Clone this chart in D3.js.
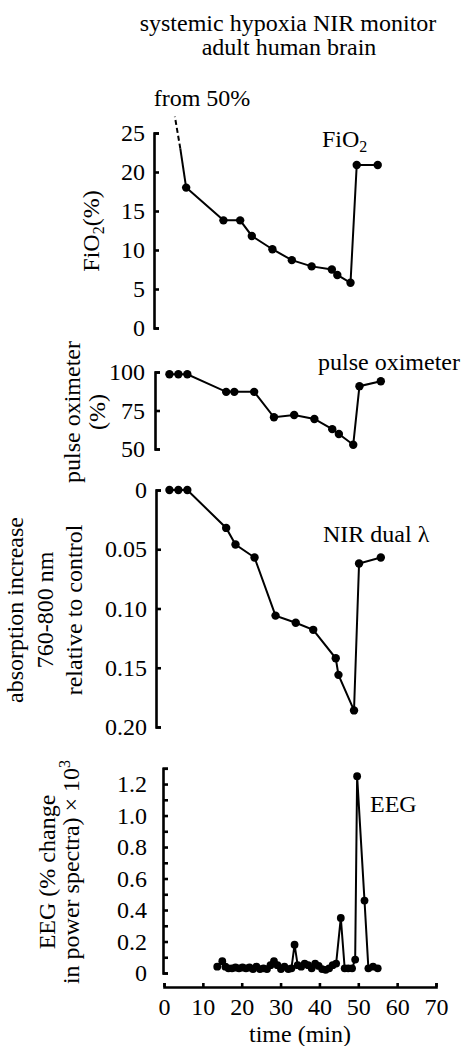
<!DOCTYPE html>
<html>
<head>
<meta charset="utf-8">
<script src="https://cdn.jsdelivr.net/npm/d3@7"></script>
<style>
  body { margin: 0; background: #fff; }
  svg text { font-family: "Liberation Serif", "Times New Roman", serif; font-size: 24px; fill: #000; }
</style>
</head>
<body>
<div id="chart"></div>
<script>
// time (min) ticks shared by every panel
const timeTicks = [0, 10, 20, 30, 40, 50, 60, 70];

// FiO2 (%)
const fio2Time = [5.7, 15.3, 19.6, 22.6, 27.9, 32.9, 38.0, 43.2, 44.6, 48.0, 49.6, 55.0];
const fio2Value = [18.0, 13.8, 13.8, 11.8, 10.1, 8.7, 7.9, 7.5, 6.8, 5.8, 20.9, 20.9];
const fio2Lead = [[5.7, 18.0], [4.2, 23.0], [2.8, 27.1]]; // "from 50%" lead-in
const fio2Ticks = [0, 5, 10, 15, 20, 25];

// pulse oximeter (%)
const pulseTime = [1.4, 3.7, 6.0, 16.0, 18.1, 23.2, 28.3, 33.5, 38.7, 43.3, 45.0, 48.7, 50.3, 55.8];
const pulseValue = [98.5, 98.5, 98.5, 87.1, 87.1, 87.1, 70.6, 72.1, 69.5, 62.9, 59.7, 52.8, 90.8, 94.0];
const pulseTicks = [50, 75, 100];

// NIR dual wavelength absorption increase
const nirTime = [1.4, 3.7, 6.0, 16.0, 18.4, 23.3, 28.7, 33.9, 38.4, 44.2, 44.9, 48.9, 50.2, 55.8];
const nirValue = [0, 0, 0, 0.032, 0.046, 0.057, 0.106, 0.112, 0.118, 0.142, 0.156, 0.186, 0.062, 0.057];
const nirTicks = [0, 0.05, 0.10, 0.15, 0.20];

// EEG (% change in power spectra) x 10^3
const eegTime = [13.7, 15.0, 15.8, 16.6, 17.5, 18.4, 19.3, 20.2, 21.1, 22.0, 22.9, 23.8, 24.7, 25.6,
  26.5, 27.4, 28.3, 29.2, 30.1, 31.0, 32.0, 32.8, 33.6, 34.4, 35.3, 36.2, 37.1, 38.0, 38.9, 39.8,
  40.7, 41.6, 42.5, 43.4, 44.3, 45.5, 46.5, 47.4, 48.4, 49.2, 49.7, 51.6, 52.6, 53.8, 55.0];
const eegValue = [0.04, 0.075, 0.04, 0.03, 0.03, 0.035, 0.03, 0.035, 0.03, 0.035, 0.025, 0.04, 0.025, 0.03,
  0.025, 0.05, 0.075, 0.05, 0.025, 0.04, 0.025, 0.03, 0.18, 0.05, 0.04, 0.06, 0.05, 0.03, 0.06, 0.045,
  0.025, 0.02, 0.03, 0.05, 0.06, 0.35, 0.03, 0.03, 0.03, 0.085, 1.25, 0.46, 0.03, 0.04, 0.03];
const eegTicks = [0, 0.1, 0.2, 0.3, 0.4, 0.5, 0.6, 0.7, 0.8, 0.9, 1.0, 1.1, 1.2, 1.3];
const eegLabels = [0, 0.2, 0.4, 0.6, 0.8, 1.0, 1.2];

const width = 465;
const height = 1046;

const svg = d3.select("#chart")
  .append("svg")
  .attr("width", width)
  .attr("height", height);

svg.append("rect").attr("width", width).attr("height", height).attr("fill", "#fff");

// shared time scale
const x = d3.scaleLinear().domain([0, 70]).range([164, 436]);

// title
svg.append("text").attr("x", 288).attr("y", 31).attr("text-anchor", "middle")
  .text("systemic hypoxia NIR monitor");
svg.append("text").attr("x", 289).attr("y", 55).attr("text-anchor", "middle")
  .text("adult human brain");

// one panel: y axis with inward ticks, line and dots
function panel(opt) {
  const y = d3.scaleLinear().domain(opt.domain).range(opt.range);
  const g = svg.append("g");

  const axis = d3.axisLeft(y)
    .tickValues(opt.ticks)
    .tickSizeInner(-5)
    .tickSizeOuter(-5)
    .tickPadding(opt.pad)
    .tickFormat(d => opt.labels.includes(d) ? opt.format(d) : "");

  const ax = g.append("g")
    .attr("transform", `translate(${opt.axisX},0)`)
    .call(axis)
    .attr("font-family", null)
    .attr("font-size", null);
  ax.selectAll("path, line").attr("stroke", "#000").attr("stroke-width", 2.6);

  const pts = opt.time.map((t, i) => [t, opt.value[i]]);
  const line = d3.line().x(d => x(d[0])).y(d => y(d[1]));

  g.append("path")
    .datum(pts)
    .attr("d", line)
    .attr("fill", "none")
    .attr("stroke", "#000")
    .attr("stroke-width", 2);

  g.selectAll("circle")
    .data(pts)
    .join("circle")
    .attr("cx", d => x(d[0]))
    .attr("cy", d => y(d[1]))
    .attr("r", opt.r || 4.2)
    .attr("fill", "#000");

  return { g, y, line };
}

// FiO2
const p1 = panel({
  domain: [0, 25], range: [328, 133], axisX: 154, pad: 9,
  ticks: fio2Ticks, labels: fio2Ticks, format: d3.format("d"),
  time: fio2Time, value: fio2Value
});
p1.g.append("path")
  .datum(fio2Lead.slice(0, 2))
  .attr("d", p1.line)
  .attr("fill", "none").attr("stroke", "#000").attr("stroke-width", 2);
p1.g.append("path")
  .datum(fio2Lead.slice(1))
  .attr("d", p1.line)
  .attr("fill", "none").attr("stroke", "#000").attr("stroke-width", 2)
  .attr("stroke-dasharray", "5,3");
svg.append("text").attr("x", 202).attr("y", 106).attr("text-anchor", "middle").text("from 50%");
const fLbl = svg.append("text").attr("x", 322).attr("y", 147);
fLbl.append("tspan").text("FiO");
fLbl.append("tspan").attr("dy", 5).style("font-size", "16px").text("2");
const yl1 = svg.append("text").attr("text-anchor", "middle")
  .attr("transform", "translate(99,231) rotate(-90)");
yl1.append("tspan").text("FiO");
yl1.append("tspan").attr("dy", 5).style("font-size", "16px").text("2");
yl1.append("tspan").attr("dy", -5).text("(%)");

// pulse oximeter
panel({
  domain: [50, 100], range: [449, 372], axisX: 155, pad: 10,
  ticks: pulseTicks, labels: pulseTicks, format: d3.format("d"),
  time: pulseTime, value: pulseValue
});
svg.append("text").attr("x", 318).attr("y", 370).text("pulse oximeter");
const yl2 = svg.append("text").attr("text-anchor", "middle")
  .attr("transform", "translate(80,412) rotate(-90)");
yl2.append("tspan").attr("x", 0).text("pulse oximeter");
yl2.append("tspan").attr("x", 0).attr("dy", 25).text("(%)");

// NIR
panel({
  domain: [0, 0.2], range: [490, 727], axisX: 156, pad: 9,
  ticks: nirTicks, labels: nirTicks, format: d => d === 0 ? "0" : d3.format(".2f")(d),
  time: nirTime, value: nirValue
});
svg.append("text").attr("x", 323).attr("y", 542).text("NIR dual λ");
const yl3 = svg.append("text").attr("text-anchor", "middle")
  .attr("transform", "translate(23,610) rotate(-90)");
yl3.append("tspan").attr("x", 0).text("absorption increase");
yl3.append("tspan").attr("x", 0).attr("dy", 30).text("760-800 nm");
yl3.append("tspan").attr("x", 0).attr("dy", 29).text("relative to control");

// EEG
panel({
  domain: [0, 1.3], range: [973, 768.3], axisX: 163, pad: 16,
  ticks: eegTicks, labels: eegLabels, format: d => d === 0 ? "0" : d3.format(".1f")(d),
  time: eegTime, value: eegValue, r: 3.9
});
svg.append("text").attr("x", 370).attr("y", 812).text("EEG");
const yl4 = svg.append("text").attr("text-anchor", "middle")
  .attr("transform", "translate(55,872) rotate(-90)");
yl4.append("tspan").attr("x", 0).text("EEG (% change");
const l2 = yl4.append("tspan").attr("x", 0).attr("dy", 24);
l2.append("tspan").text("in power spectra) × 10");
l2.append("tspan").attr("dy", -9).style("font-size", "16px").text("3");

// time axis
const xAxis = d3.axisBottom(x)
  .tickValues(timeTicks)
  .tickSizeInner(-4)
  .tickSizeOuter(-4)
  .tickPadding(11)
  .tickFormat(d3.format("d"));
const xa = svg.append("g").attr("transform", "translate(0,987)").call(xAxis)
  .attr("font-family", null)
  .attr("font-size", null);
xa.selectAll("path, line").attr("stroke", "#000").attr("stroke-width", 2.6);
svg.append("text").attr("x", 300).attr("y", 1042).attr("text-anchor", "middle").text("time (min)");
</script>
</body>
</html>
